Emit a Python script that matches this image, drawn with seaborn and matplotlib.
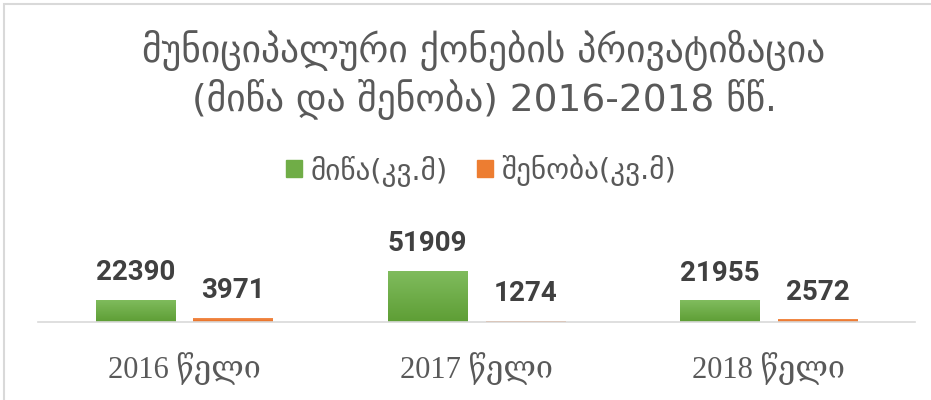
import numpy as np
import pandas as pd
import seaborn as sns
import matplotlib.pyplot as plt
from matplotlib.patches import Rectangle
from matplotlib.colors import LinearSegmentedColormap

years = ["2016 წელი", "2017 წელი", "2018 წელი"]
series = ["მიწა(კვ.მ)", "შენობა(კვ.მ)"]
land = [22390, 51909, 21955]
building = [3971, 1274, 2572]

df = pd.DataFrame({
    "year": years * 2,
    "series": [series[0]] * 3 + [series[1]] * 3,
    "value": land + building,
})

sns.set_theme(style="white")
plt.rcParams["font.family"] = ["DejaVu Sans"]

green = "#70AD47"
orange = "#ED7D31"

fig = plt.figure(figsize=(9.31, 4.0), dpi=100)
ax = fig.add_axes([38 / 931, 1 - 322 / 400, (915 - 38) / 931, 122 / 400])

sns.barplot(data=df, x="year", y="value", hue="series", palette=[green, orange],
            width=0.67, gap=0.19, ax=ax, legend=False, saturation=1)

# gradient fill on bars
grads = {
    green: LinearSegmentedColormap.from_list("g", ["#5E9E35", "#80BC5E"]),
    orange: LinearSegmentedColormap.from_list("o", ["#E86A1C", "#F28E4E"]),
}
for i, cont in enumerate(ax.containers):
    cmap = grads[green] if i == 0 else grads[orange]
    for p in cont:
        x0, y0 = p.get_x(), p.get_y()
        w, h = p.get_width(), p.get_height()
        img = ax.imshow(np.linspace(0, 1, 50).reshape(-1, 1), cmap=cmap, aspect="auto",
                        origin="lower", extent=[x0, x0 + w, y0, y0 + h], zorder=p.get_zorder() + 0.1)
        img.set_clip_path(p)
    ax.bar_label(cont, padding=10, fontsize=20, fontweight="bold", color="#404040",
                 family=["Roboto", "DejaVu Sans"])

ax.set_xlim(-0.5, 2.5)
ax.set_ylim(0, 124000)
ax.set_xlabel("")
ax.set_ylabel("")
ax.set_yticks([])
ax.tick_params(axis="x", length=0, pad=22, labelsize=22, colors="#595959")
for t in ax.get_xticklabels():
    t.set_family(["Liberation Serif", "DejaVu Serif", "DejaVu Sans"])
for s in ["top", "right", "left"]:
    ax.spines[s].set_visible(False)
ax.spines["bottom"].set_color("#D9D9D9")
ax.spines["bottom"].set_linewidth(1.2)
ax.set_facecolor("none")

fig.text(484 / 931, 1 - 50 / 400, "მუნიციპალური ქონების პრივატიზაცია", ha="center", va="center",
         fontsize=27, color="#595959")
fig.text(484 / 931, 1 - 100 / 400, "(მიწა და შენობა) 2016-2018 წწ.", ha="center", va="center",
         fontsize=27, color="#595959")

handles = [Rectangle((0, 0), 1, 1, color=green), Rectangle((0, 0), 1, 1, color=orange)]
fig.legend(handles, series, loc="center", bbox_to_anchor=(481 / 931, 1 - 170 / 400), ncol=2,
           frameon=False, fontsize=21, labelcolor="#595959", handlelength=0.55, handleheight=0.55,
           columnspacing=1.0, handletextpad=0.3)

# chart border (top and left edges visible)
fig.add_artist(Rectangle((3.5 / 931, -0.1), 1.2, 1 - 3.5 / 400 + 0.1, transform=fig.transFigure,
                         fill=False, edgecolor="#D9D9D9", linewidth=1.5))

plt.savefig("out.png", dpi=100)
